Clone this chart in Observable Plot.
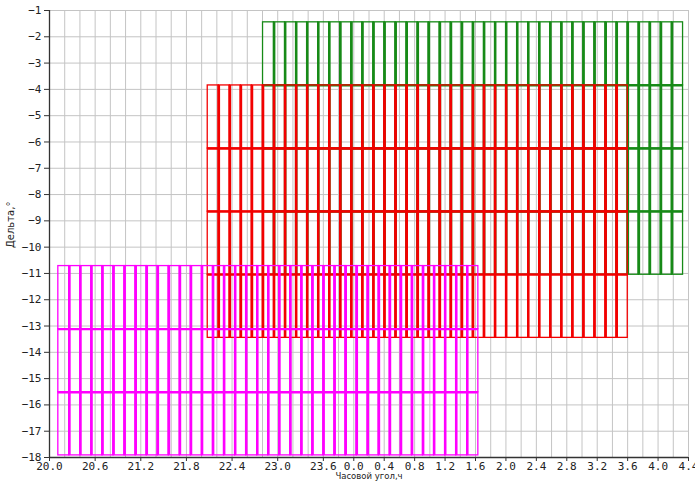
<!DOCTYPE html>
<html>
<head>
<meta charset="utf-8">
<script src="https://cdn.jsdelivr.net/npm/d3@7"></script>
<script src="https://cdn.jsdelivr.net/npm/@observablehq/plot@0.6"></script>
<style>
  html, body { margin: 0; padding: 0; background: #fff; }
</style>
</head>
<body>
<div id="chart"></div>
<script>
// Axis ticks (hour angle in hours, values past 24 wrap to 0)
const xTickValues = [20.0, 20.6, 21.2, 21.8, 22.4, 23.0, 23.6, 24.0, 24.4, 24.8, 25.2, 25.6, 26.0, 26.4, 26.8, 27.2, 27.6, 28.0, 28.4];
const yTickValues = [-1, -2, -3, -4, -5, -6, -7, -8, -9, -10, -11, -12, -13, -14, -15, -16, -17, -18];
const xGridStep = 0.2;

// Field mosaics: three sets
const setColors = ["#178a17", "#f20000", "#ff00ff"];
const setRaStart = [22.807, 22.080, 20.116];   // hours
const setColumns = [38, 38, 38];
const fieldWidthH = 0.1453;                   // hours per field column
const greenDecEdges = [-1.45, -3.85, -6.25, -8.65, -11.05];
const redDecEdges = [-3.85, -6.25, -8.65, -11.05, -13.45];
const magentaDecEdges = [-10.72, -13.12, -15.52, -17.92];
const setDecEdges = [greenDecEdges, redDecEdges, magentaDecEdges];

const gridX = d3.range(0, Math.round((28.4 - 20) / xGridStep) + 1).map(i => +(20 + i * xGridStep).toFixed(2));

// Build marks per set (drawn in order: green, red, magenta)
const setMarks = setColors.flatMap((color, s) => {
  const edges = setDecEdges[s];
  const n = setColumns[s];
  const xs = d3.range(0, n + 1).map(c => setRaStart[s] + c * fieldWidthH);
  const cells = [];
  for (let c = 0; c < n; c++) {
    for (let r = 0; r < edges.length - 1; r++) {
      cells.push({ x1: xs[c], x2: xs[c + 1], y1: edges[r], y2: edges[r + 1] });
    }
  }
  const innerX = xs.slice(1, -1);
  const innerY = edges.slice(1, -1);
  const top = edges[0], bottom = edges[edges.length - 1];
  return [
    Plot.rect(cells, { x1: "x1", x2: "x2", y1: "y1", y2: "y2", stroke: color, fill: "none", strokeWidth: 1.3 }),
    Plot.ruleX(innerX, { y1: top, y2: bottom, stroke: color, strokeWidth: 2.6 }),
    Plot.ruleY(innerY, { x1: xs[0], x2: xs[n], stroke: color, strokeWidth: 2.2 })
  ];
});

const mono = "DejaVu Sans Mono";
const chart = Plot.plot({
  width: 695,
  height: 485,
  marginLeft: 49,
  marginRight: 7,
  marginTop: 10,
  marginBottom: 28,
  style: { background: "#fff", fontFamily: mono, fontSize: "11px", color: "#222" },
  x: { domain: [20, 28.4] },
  y: { domain: [-18, -1] },
  marks: [
    Plot.gridX(gridX, { stroke: "#c4c4c4", strokeOpacity: 1, strokeWidth: 1 }),
    Plot.gridY(yTickValues, { stroke: "#c4c4c4", strokeOpacity: 1, strokeWidth: 1 }),
    ...setMarks,
    Plot.axisX({
      ticks: xTickValues,
      tickFormat: d => (d % 24).toFixed(1),
      tickSize: 4, tickPadding: 1, label: null,
      fontFamily: mono, fontSize: 11, stroke: "#333"
    }),
    Plot.axisY({
      ticks: yTickValues,
      tickFormat: d => (d < 0 ? "\u2212" : "") + Math.abs(d),
      tickSize: 5, tickPadding: 3, label: null,
      fontFamily: mono, fontSize: 11, stroke: "#333"
    }),
    Plot.ruleX([20], { stroke: "#333", strokeWidth: 1.3 }),
    Plot.ruleY([-18], { stroke: "#333", strokeWidth: 1.3 }),
    Plot.text(["Часовой угол,ч"], {
      frameAnchor: "bottom", dy: 21, fontFamily: "DejaVu Sans", fontSize: 8.5, fill: "#222"
    }),
    Plot.text(["Дельта,°"], {
      frameAnchor: "left", dx: -39, dy: 14, rotate: -90, fontFamily: "DejaVu Sans", fontSize: 10, fill: "#222"
    })
  ]
});
document.getElementById("chart").appendChild(chart);
</script>
</body>
</html>
